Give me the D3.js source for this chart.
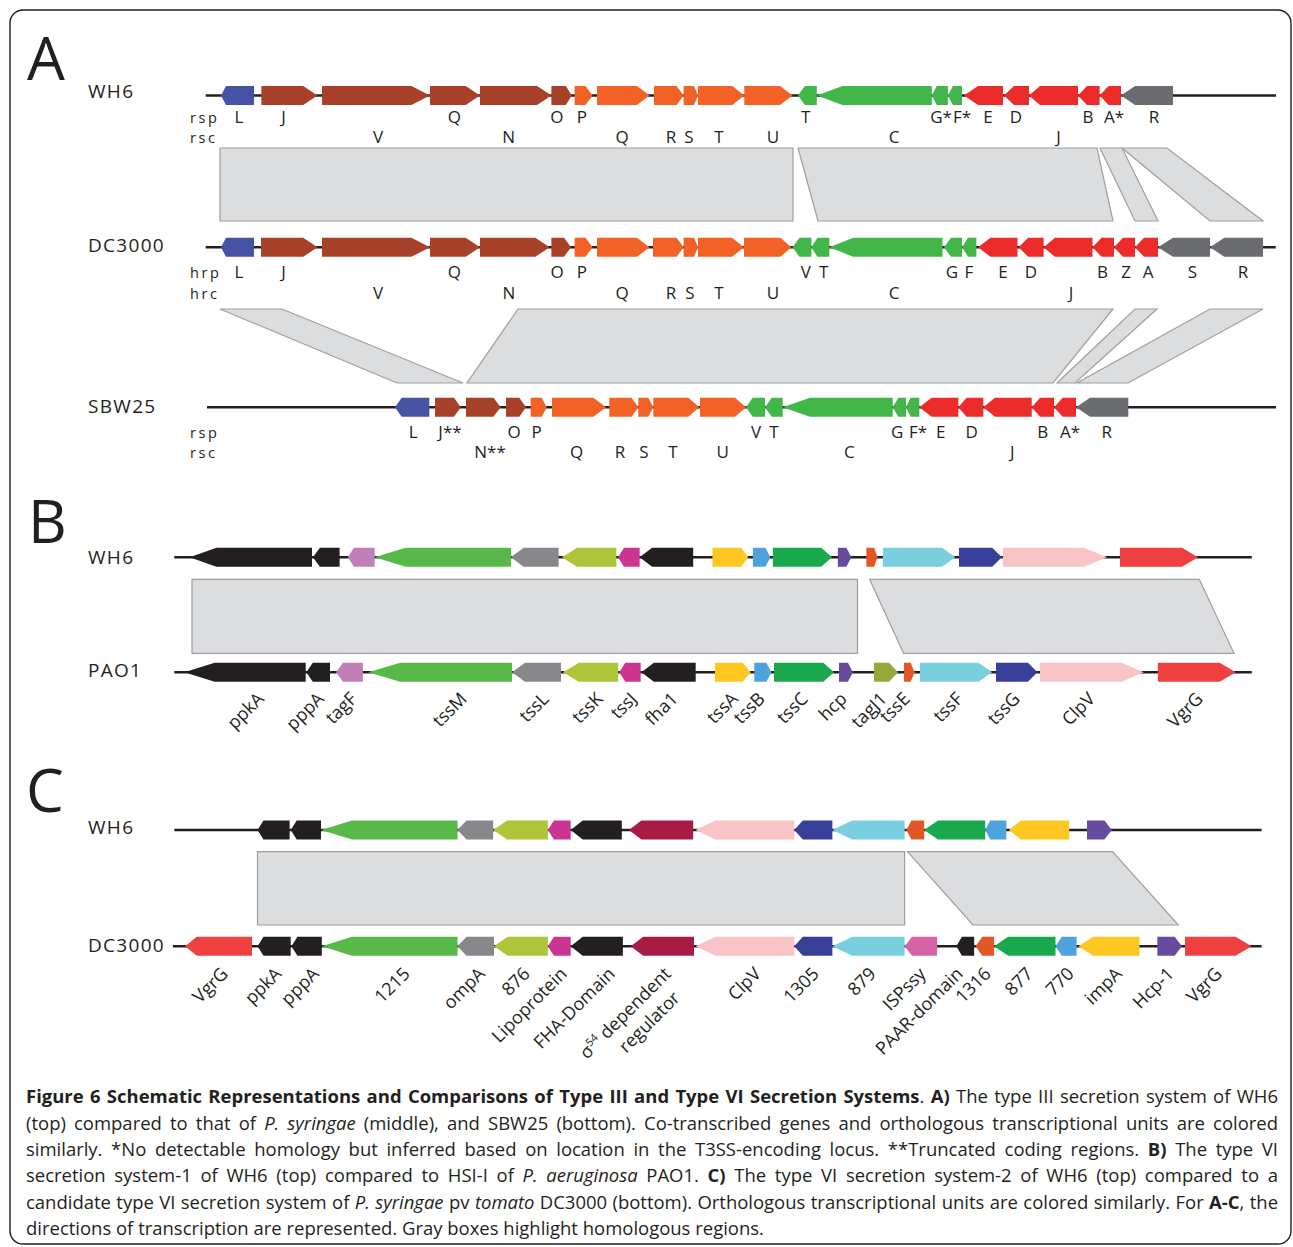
<!DOCTYPE html>
<html><head><meta charset="utf-8">
<script src="https://cdn.jsdelivr.net/npm/d3@7"></script>
<style>
body{margin:0;background:#fff;}
svg text{font-family:"Open Sans","Noto Sans",sans-serif;fill:#231f20;}
</style></head><body>
<svg id="fig" width="1293" height="1247" xmlns="http://www.w3.org/2000/svg"></svg>
<script>
// ---------- colours ----------
const colors = {
  blue:"#4652a3", brown:"#a7412a", orange:"#f26126", green:"#43b64a", red:"#ec2b2b", gray:"#6b6c70",
  black:"#231f20", tagF:"#c17fb8", tssM:"#58b848", tssL:"#87888c", tssK:"#adc538", tssJ:"#cc3491",
  tssA:"#fec722", tssB:"#4ea3dc", tssC:"#1aa84c", hcp:"#674b9f", tssE:"#e35625", tssF:"#79cfdd",
  tssG:"#383f98", ClpV:"#f8c4c6", VgrG:"#ef4040", tagJ1:"#94a83b", sigma:"#a81c43", ISPssy:"#d763a6"
};

// ---------- Panel A: T3SS genes [start, end, head, strand, colour] ----------
const aWH6Genes = [
  [221,254,5,-1,"blue"],[261.4,317.5,14.3,1,"brown"],[322,430,18.6,1,"brown"],[430,480,14.3,1,"brown"],
  [480,551.4,14.3,1,"brown"],[551.4,571.8,6,1,"brown"],[574.6,592.5,7,1,"orange"],[597,649.6,12.6,1,"orange"],
  [654,683.6,7,1,"orange"],[683.6,698,4,1,"orange"],[698,744.3,12,1,"orange"],[744.3,792.5,12.5,1,"orange"],
  [797.9,816.8,7,-1,"green"],[816.8,931.8,25.7,-1,"green"],[931.8,947.9,5,-1,"green"],[947.9,962,5,-1,"green"],
  [964,1003,14,-1,"red"],[1004,1029,10,-1,"red"],[1029,1078,11,-1,"red"],[1078,1099.6,9,-1,"red"],
  [1099.6,1121,9,-1,"red"],[1121,1173,14,-1,"gray"]
];
const aDCGenes = [
  [221,254,5,-1,"blue"],[261,317.5,14.3,1,"brown"],[322,430,18.6,1,"brown"],[430,480,14.3,1,"brown"],
  [480,549.6,14.3,1,"brown"],[551.4,571,7,1,"brown"],[574.6,592.5,7,1,"orange"],[597,649.6,12.6,1,"orange"],
  [653,683.6,7,1,"orange"],[683.6,698,4,1,"orange"],[698,744,12,1,"orange"],[744,791.4,11,1,"orange"],
  [792.5,811.4,7,-1,"green"],[811.4,829.3,6,-1,"green"],[829.3,942.5,24,-1,"green"],[944,962,7,-1,"green"],
  [962,976.4,6,-1,"green"],[978,1017.5,12.5,-1,"red"],[1018.6,1043.6,9.6,-1,"red"],[1043.6,1092.5,11.4,-1,"red"],
  [1092.5,1114,9,-1,"red"],[1114,1135,9,-1,"red"],[1135,1158,9,-1,"red"],[1158,1210,15,-1,"gray"],
  [1210,1263,14.3,-1,"gray"]
];
const aSBWGenes = [
  [395,429.3,6.7,-1,"blue"],[435,460.7,6.7,1,"brown"],[466,500.7,7.3,1,"brown"],[506,526,6.7,1,"brown"],
  [530.7,546.7,5,1,"orange"],[552,606,12.7,1,"orange"],[609.3,638.3,6.7,1,"orange"],[638.3,653.3,5,1,"orange"],
  [653.3,699.3,11,1,"orange"],[700,746,11,1,"orange"],[746,765,6.7,-1,"green"],[765,782.7,6.7,-1,"green"],
  [782.7,892.7,27.3,-1,"green"],[892.7,906,5.7,-1,"green"],[906,919.3,4.7,-1,"green"],[919.3,958.3,12.3,-1,"red"],
  [958.3,983.3,8.3,-1,"red"],[983.3,1031.7,11.7,-1,"red"],[1031.7,1054,8.3,-1,"red"],[1054,1076,8.7,-1,"red"],
  [1076,1128.3,14,-1,"gray"]
];
// labels [text, position, row]
const aWH6Labels = [
  ["L",239,0],["J",283.6,0],["Q",454.3,0],["O",556.8,0],["P",581.8,0],["T",805.7,0],["G*",941,0],["F*",962,0],
  ["E",988,0],["D",1016,0],["B",1088,0],["A*",1114,0],["R",1154,0],
  ["V",378,1],["N",508.6,1],["Q",622,1],["R",671,1],["S",689,1],["T",719,1],["U",773,1],["C",894,1],["J",1058.5,1]
];
const aDCLabels = [
  ["L",239,0],["J",283.6,0],["Q",454.3,0],["O",557,0],["P",581.8,0],["V",805.7,0],["T",823.6,0],["G",952,0],
  ["F",969,0],["E",1003,0],["D",1031,0],["B",1102.5,0],["Z",1126,0],["A",1148,0],["S",1192.5,0],["R",1243,0],
  ["V",378,1],["N",509,1],["Q",622,1],["R",671,1],["S",690,1],["T",719,1],["U",773,1],["C",894,1],["J",1071,1]
];
const aSBWLabels = [
  ["L",413.3,0],["J**",450,0],["O",514,0],["P",536.7,0],["V",756,0],["T",774,0],["G",897.3,0],["F*",918,0],
  ["E",940.7,0],["D",971.7,0],["B",1042.7,0],["A*",1070,0],["R",1106.7,0],
  ["N**",490,1],["Q",576.7,1],["R",620,1],["S",644,1],["T",673,1],["U",722.7,1],["C",849.3,1],["J",1012.3,1]
];
// homology boxes [topLeft, topRight, bottomRight, bottomLeft]
const aBoxes1 = [[220,793,793,220],[798,1097,1113,818],[1100,1122,1158,1135],[1122,1167,1263,1210]];
const aBoxes2 = [[220,282,463,397],[518,1113,1053,467],[1135,1157,1075,1057],[1210,1263,1128,1077]];

// ---------- Panel B ----------
const bWH6Genes = [
  [189.6,312,26.8,-1,"black"],[312.9,339.6,7,-1,"black"],[347.9,374.6,6,-1,"tagF"],[374.6,511,31,-1,"tssM"],
  [511,558.6,12.5,-1,"tssL"],[562,616.4,15,-1,"tssK"],[618,639.6,6,-1,"tssJ"],[639.6,693.2,12.5,-1,"black"],
  [712.5,748.2,7,1,"tssA"],[752.9,770.4,5,1,"tssB"],[772.9,832,10.7,1,"tssC"],[837.9,851.4,5,1,"hcp"],
  [866.4,877.5,3.3,1,"tssE"],[882.9,955.4,13.4,1,"tssF"],[959,1001.8,9.6,1,"tssG"],[1002.9,1107,23,1,"ClpV"],
  [1120,1198,16,1,"VgrG"]
];
const bPAOGenes = [
  [184.3,305.7,30.4,-1,"black"],[306.4,330,6.4,-1,"black"],[336,362.9,7,-1,"tagF"],[368.2,512,32,-1,"tssM"],
  [512,561,13,-1,"tssL"],[562.9,618.2,16,-1,"tssK"],[619.3,640.7,6,-1,"tssJ"],[641.4,695.7,12.5,-1,"black"],
  [715,750.7,8,1,"tssA"],[754.3,771.4,5,1,"tssB"],[774,834,10.7,1,"tssC"],[839,852.9,5,1,"hcp"],
  [874,898,9,1,"tagJ1"],[904,914.6,4,1,"tssE"],[920,992,13.5,1,"tssF"],[996,1037.5,9.6,1,"tssG"],
  [1040,1143.6,22,1,"ClpV"],[1157.9,1235.7,16,1,"VgrG"]
];
const bLabels = [
  ["ppkA",265],["pppA",325],["tagF",358],["tssM",468],["tssL",550],["tssK",604],["tssJ",638],["fha1",679],
  ["tssA",739],["tssB",766],["tssC",809],["hcp",848],["tagJ1",888],["tssE",911],["tssF",964],["tssG",1021],
  ["ClpV",1096],["VgrG",1204]
];
const bBoxes = [[192,857.5,857.5,192],[869.6,1199.3,1234,903.6]];

// ---------- Panel C ----------
const cWH6Genes = [
  [257.5,289.6,6,-1,"black"],[290.7,321,6,-1,"black"],[321,457.5,31,-1,"tssM"],[457.5,493.2,9,-1,"tssL"],
  [493.2,547.9,14,-1,"tssK"],[547.9,570.7,6,-1,"tssJ"],[570.7,621.8,12,-1,"black"],[628.9,693.2,12.5,-1,"sigma"],
  [695.5,794.3,20,-1,"ClpV"],[794.3,832.4,8.5,-1,"tssG"],[832.4,904.6,20,-1,"tssF"],[906.4,924.2,5,-1,"tssE"],
  [924.2,985.2,13.7,-1,"tssC"],[985.2,1006.3,5,-1,"tssB"],[1008.9,1069.2,12,-1,"tssA"],[1087,1111.8,7.4,1,"hcp"]
];
const cDCGenes = [
  [185,252,11.8,-1,"VgrG"],[257.5,290.7,6,-1,"black"],[291.4,321.8,6,-1,"black"],[321.8,457.5,30,-1,"tssM"],
  [457.5,494,9,-1,"tssL"],[494,547.9,13.6,-1,"tssK"],[547.9,570.7,6,-1,"tssJ"],[570.7,622.9,12,-1,"black"],
  [630.7,694,12.5,-1,"sigma"],[695.5,794.3,20,-1,"ClpV"],[794.3,832.4,8.5,-1,"tssG"],[832.4,904.6,20,-1,"tssF"],
  [904.6,937.1,7.4,-1,"ISPssy"],[956.4,974.1,5.5,-1,"black"],[975.6,994.1,6.7,-1,"tssE"],[994.1,1055.5,14,-1,"tssC"],
  [1055.5,1076.6,6.3,-1,"tssB"],[1078.5,1139.5,14.8,-1,"tssA"],[1157.3,1182,7.4,1,"hcp"],[1185,1251.6,16,1,"VgrG"]
];
const cLabels = [
  ["VgrG",229],["ppkA",282.5],["pppA",320],["1215",411],["ompA",486],["876",531],["Lipoprotein",568],
  ["FHA-Domain",616],["ClpV",762],["1305",820],["879",877],["ISPssy",927],["PAAR-domain",964],
  ["1316",992],["877",1034],["770",1075],["impA",1123],["Hcp-1",1175],["VgrG",1223]
];
const cBoxes = [[257.5,904.6,904.6,257.5],[907.5,1112.5,1178.3,973]];

// ---------- drawing ----------
const svg = d3.select("#fig");
const x = d3.scaleLinear().domain([0,1293]).range([0,1293]);
const GH = 19; // gene height

svg.append("rect").attr("x",10).attr("y",10).attr("width",1281).attr("height",1234)
  .attr("rx",13).attr("fill","none").attr("stroke","#231f20").attr("stroke-width",1.4);

function genePath(g, cy){
  const [s,e,hd,dir] = g;
  const x0=x(s), x1=x(e), hl=x(s+hd)-x(s), t=cy-GH/2, b=cy+GH/2;
  if(dir>0){const hb=x1-hl; return `M${x0},${t}L${hb},${t}L${x1},${cy}L${hb},${b}L${x0},${b}Z`;}
  const hb=x0+hl; return `M${x0},${cy}L${hb},${t}L${x1},${t}L${x1},${b}L${hb},${b}Z`;
}
function track(name, nameY, cy, range, genes){
  const g = svg.append("g");
  g.append("text").attr("x",88).attr("y",nameY).attr("font-size",19).attr("letter-spacing",1.3).text(name);
  g.append("line").attr("x1",x(range[0])).attr("x2",x(range[1])).attr("y1",cy).attr("y2",cy)
    .attr("stroke","#231f20").attr("stroke-width",2.6);
  g.selectAll("path").data(genes).join("path").attr("d",d=>genePath(d,cy)).attr("fill",d=>colors[d[4]]);
}
function boxes(data, y0, y1){
  svg.append("g").selectAll("path").data(data).join("path")
    .attr("d",d=>`M${x(d[0])},${y0}L${x(d[1])},${y0}L${x(d[2])},${y1}L${x(d[3])},${y1}Z`)
    .attr("fill","#dcdddf").attr("stroke","#9d9fa2").attr("stroke-width",1.2);
}
function rowLabels(data, y0, y1, prefixes){
  const g = svg.append("g").attr("font-size",17);
  g.selectAll("text.l").data(data).join("text").attr("class","l")
    .attr("x",d=>x(d[1])).attr("y",d=>d[2]?y1:y0).attr("text-anchor","middle").text(d=>d[0]);
  g.append("text").attr("x",190).attr("y",y0).attr("font-size",14.5).attr("letter-spacing",2.6).text(prefixes[0]);
  g.append("text").attr("x",190).attr("y",y1).attr("font-size",14.5).attr("letter-spacing",2.6).text(prefixes[1]);
}
function rotLabels(data, y){
  svg.append("g").attr("font-size",18).selectAll("text").data(data).join("text")
    .attr("transform",d=>`translate(${x(d[1])},${y}) rotate(-45)`).attr("text-anchor","end").text(d=>d[0]);
}
function panelLetter(t, px, py){
  svg.append("text").attr("x",px).attr("y",py).attr("font-size",60).text(t);
}

// Panel A
panelLetter("A",27,80);
boxes(aBoxes1,148,221);
boxes(aBoxes2,309,383);
track("WH6",98,95.5,[205.7,1276],aWH6Genes);
track("DC3000",252,247.3,[205.7,1275.7],aDCGenes);
track("SBW25",413,407.3,[207,1276],aSBWGenes);
rowLabels(aWH6Labels,123,143,["rsp","rsc"]);
rowLabels(aDCLabels,278,298.5,["hrp","hrc"]);
rowLabels(aSBWLabels,437.5,457.5,["rsp","rsc"]);

// Panel B
panelLetter("B",28,543);
boxes(bBoxes,579.3,653.3);
track("WH6",564,557.3,[174.3,1251.8],bWH6Genes);
track("PAO1",677,672.3,[174.3,1251.8],bPAOGenes);
rotLabels(bLabels,700);

// Panel C
panelLetter("C",26,812);
boxes(cBoxes,851.7,925);
track("WH6",834,830,[174.3,1261.6],cWH6Genes);
track("DC3000",952,946.2,[172.9,1261.6],cDCGenes);
rotLabels(cLabels,975);
// sigma-54 label (two lines)
const sg = svg.append("g").attr("font-size",18);
const s1 = sg.append("text").attr("transform",`translate(${x(672)},975) rotate(-45)`).attr("text-anchor","end");
s1.append("tspan").text("σ");
s1.append("tspan").attr("font-size",11).attr("dy",-7).text("54");
s1.append("tspan").attr("dy",7).text(" dependent");
sg.append("text").attr("transform",`translate(${x(681)},999) rotate(-45)`).attr("text-anchor","end").text("regulator");

// ---------- caption ----------
const capLines = [
  [["Figure 6 Schematic Representations and Comparisons of Type III and Type VI Secretion Systems","b"],[". ",""],["A)","b"],[" The type III secretion system of WH6",""]],
  [["(top) compared to that of ",""],["P. syringae","i"],[" (middle), and SBW25 (bottom). Co-transcribed genes and orthologous transcriptional units are colored",""]],
  [["similarly. *No detectable homology but inferred based on location in the T3SS-encoding locus. **Truncated coding regions. ",""],["B)","b"],[" The type VI",""]],
  [["secretion system-1 of WH6 (top) compared to HSI-I of ",""],["P. aeruginosa","i"],[" PAO1. ",""],["C)","b"],[" The type VI secretion system-2 of WH6 (top) compared to a",""]],
  [["candidate type VI secretion system of ",""],["P. syringae","i"],[" pv ",""],["tomato","i"],[" DC3000 (bottom). Orthologous transcriptional units are colored similarly. For ",""],["A-C","b"],[", the",""]],
  [["directions of transcription are represented. Gray boxes highlight homologous regions.",""]]
];
const capY = [1103,1129.5,1156,1182.3,1208.7,1235];
const cap = svg.append("g").attr("font-size",18).style("white-space","pre");
const capTexts = capLines.map((ln,i)=>{
  const t = cap.append("text").attr("x",26).attr("y",capY[i]);
  ln.forEach(([s,st])=>{
    const ts = t.append("tspan").text(s);
    if(st==="b") ts.attr("font-weight","bold");
    if(st==="i") ts.attr("font-style","italic");
  });
  return t;
});
// size font so the last (unjustified) line matches its printed width, then justify the others
const w6 = capTexts[5].node().getBBox().width;
const fs = 18*738/w6;
cap.attr("font-size",fs);
capTexts.slice(0,5).forEach(t=>{
  const w = t.node().getBBox().width;
  const n = (t.text().match(/ /g)||[]).length;
  const extra = (1252 - w)/n;
  t.style("word-spacing", extra+"px");
  const w2 = t.node().getBBox().width;
  if(Math.abs(w2-1252)>4){ t.style("word-spacing",null).attr("textLength",1252).attr("lengthAdjust","spacing"); }
});
</script>
</body></html>
